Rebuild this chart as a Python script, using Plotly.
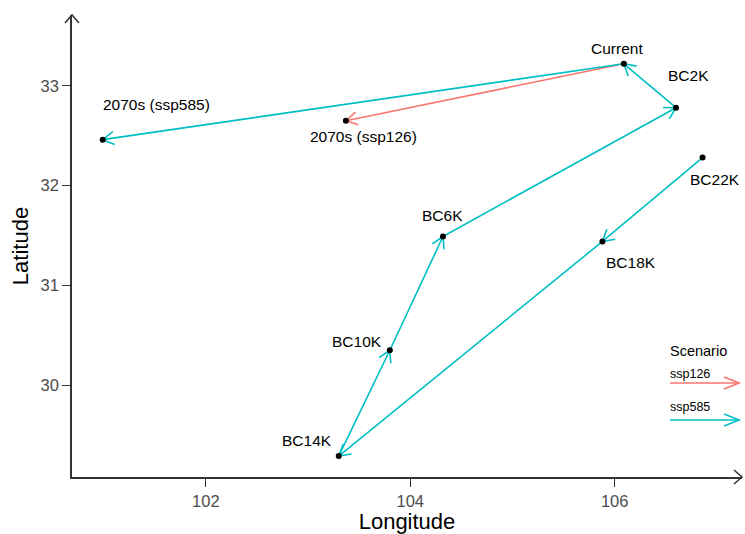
import math
import plotly.graph_objects as go

# ---------------- data ----------------
periods = ["BC22K", "BC18K", "BC14K", "BC10K", "BC6K", "BC2K", "Current"]
lon = [106.86, 105.88, 103.30, 103.80, 104.32, 106.60, 106.09]
lat = [32.28, 31.44, 29.29, 30.35, 31.49, 32.78, 33.22]

scenarios = ["ssp126", "ssp585"]
future_labels = ["2070s (ssp126)", "2070s (ssp585)"]
future_lon = [103.37, 100.99]
future_lat = [32.65, 32.46]
colors = {"ssp126": "#F8766D", "ssp585": "#00BFC4"}

x_ticks = [102, 104, 106]
y_ticks = [30, 31, 32, 33]

# ---------------- layout geometry ----------------
W, H = 745, 534
ML, MR, MT, MB = 72, 3, 15, 57
PW, PH = W - ML - MR, H - MT - MB
XR = [100.69, 107.246]
YR = [29.08, 33.709]
SX = PW / (XR[1] - XR[0])
SY = PH / (YR[1] - YR[0])

ARM = 13.0
ANG = math.radians(30)
FONT = "Liberation Sans, Arial"


def chevron(px, py, qx, qy):
    """Arrow head arms at q for segment p->q, computed in pixel space."""
    dx = (px - qx) * SX
    dy = -(py - qy) * SY
    n = math.hypot(dx, dy)
    dx, dy = dx / n, dy / n
    xs, ys = [], []
    for s in (ANG, -ANG):
        rx = dx * math.cos(s) - dy * math.sin(s)
        ry = dx * math.sin(s) + dy * math.cos(s)
        xs.append(qx + ARM * rx / SX)
        ys.append(qy - ARM * ry / SY)
    return [xs[0], qx, xs[1]], [ys[0], qy, ys[1]]


fig = go.Figure()


def add_path(xs, ys, color):
    lx, ly = [], []
    for i in range(len(xs) - 1):
        lx += [xs[i], xs[i + 1], None]
        ly += [ys[i], ys[i + 1], None]
        cx, cy = chevron(xs[i], ys[i], xs[i + 1], ys[i + 1])
        lx += cx + [None]
        ly += cy + [None]
    fig.add_trace(go.Scatter(x=lx, y=ly, mode="lines",
                             line=dict(color=color, width=1.6),
                             hoverinfo="skip", showlegend=False))


# ssp126 first (under), then ssp585 with the shared history path
add_path([lon[-1], future_lon[0]], [lat[-1], future_lat[0]], colors["ssp126"])
add_path(lon + [future_lon[1]], lat + [future_lat[1]], colors["ssp585"])

# points
fig.add_trace(go.Scatter(x=lon + future_lon, y=lat + future_lat, mode="markers",
                         marker=dict(color="black", size=6),
                         hoverinfo="skip", showlegend=False))

# point labels (pixel offsets)
offsets = {
    "BC22K": (12, 22), "BC18K": (29, 21), "BC14K": (-32, -16),
    "BC10K": (-33, -9), "BC6K": (0, -21), "BC2K": (13, -32),
    "Current": (-7, -15),
    "2070s (ssp126)": (18, 16), "2070s (ssp585)": (54, -35),
}
names = periods + future_labels
for name, x, y in zip(names, lon + future_lon, lat + future_lat):
    ox, oy = offsets[name]
    fig.add_annotation(x=x, y=y, text=name, showarrow=False,
                       xshift=ox, yshift=-oy,
                       font=dict(family=FONT, size=15.5, color="black"))


def paper(px, py):
    return (px - ML) / PW, 1 - (py - MT) / PH


shapes = []


def pline(pts, color, width):
    path = ""
    for i, (px, py) in enumerate(pts):
        x, y = paper(px, py)
        path += ("M" if i == 0 else "L") + f"{x:.5f},{y:.5f} "
    shapes.append(dict(type="path", xref="paper", yref="paper", path=path,
                       line=dict(color=color, width=width)))


# axis end arrows
ax_col = "#333333"
x0p, yb = ML, MT + PH
pline([(ML + PW - 8, yb - 7), (ML + PW, yb), (ML + PW - 8, yb + 7)], ax_col, 1.5)
pline([(x0p - 7, MT + 8), (x0p, MT), (x0p + 7, MT + 8)], ax_col, 1.5)

# legend
fig.add_annotation(xref="paper", yref="paper", x=paper(668, 0)[0], y=paper(0, 351)[1],
                   text="Scenario", showarrow=False, xanchor="left", yanchor="middle",
                   font=dict(family=FONT, size=14.5, color="black"))
for i, sc in enumerate(scenarios):
    ty = 374 + 33 * i
    ly = 383 + 37 * i
    fig.add_annotation(xref="paper", yref="paper", x=paper(668, 0)[0], y=paper(0, ty)[1],
                       text=sc, showarrow=False, xanchor="left", yanchor="middle",
                       font=dict(family=FONT, size=12.5, color="black"))
    pline([(670, ly), (739, ly)], colors[sc], 1.6)
    pline([(724, ly - 6), (739, ly), (724, ly + 6)], colors[sc], 1.6)

axis_font = dict(family=FONT, size=16.5, color="#4D4D4D")
fig.update_layout(
    width=W, height=H,
    margin=dict(l=ML, r=MR, t=MT, b=MB),
    paper_bgcolor="white", plot_bgcolor="white",
    shapes=shapes,
    xaxis=dict(range=XR, tickvals=x_ticks, ticks="outside", ticklen=8,
               tickcolor=ax_col, tickwidth=1.3, showline=True, linecolor=ax_col,
               linewidth=1.5, showgrid=False, zeroline=False, tickfont=axis_font,
               title=dict(text="Longitude", standoff=4,
                          font=dict(family=FONT, size=22, color="black"))),
    yaxis=dict(range=YR, tickvals=y_ticks, ticks="outside", ticklen=8,
               tickcolor=ax_col, tickwidth=1.3, showline=True, linecolor=ax_col,
               linewidth=1.5, showgrid=False, zeroline=False, tickfont=axis_font,
               title=dict(text="Latitude", standoff=6,
                          font=dict(family=FONT, size=22, color="black"))),
)

fig.write_html("out.html", config={"displayModeBar": False},
               post_script="document.body.style.margin='0px';")
